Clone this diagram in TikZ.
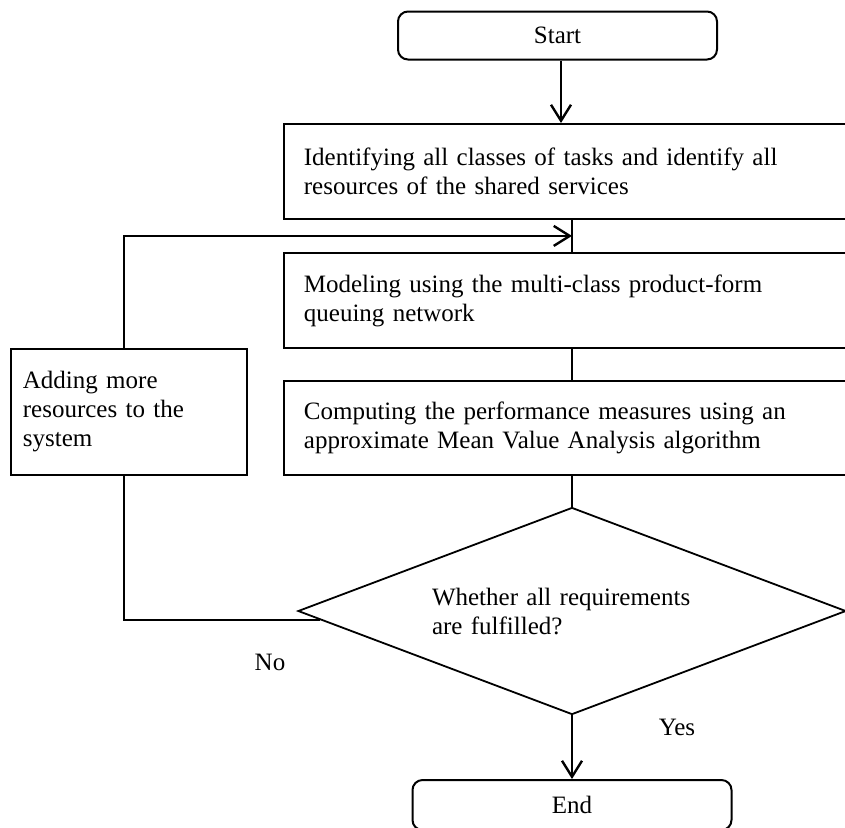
\documentclass[tikz,border=0pt]{standalone}
\usepackage{fontspec}
\setmainfont{Liberation Serif}
\usetikzlibrary{positioning, arrows.meta, shapes.geometric, calc}

\begin{document}
\begin{tikzpicture}[x=0.5pt, y=-0.5pt,
  font=\fontsize{12.5pt}{14.5pt}\selectfont,
  termbox/.style={draw, line width=1pt, rounded corners=5pt, minimum width=159.5pt, minimum height=24pt, inner sep=0pt},
  procbox/.style={draw, line width=0.9pt, anchor=north west, minimum width=283.5pt, text width=263.5pt, inner xsep=10pt, align=left},
  decbox/.style={draw, diamond, line width=0.9pt, minimum width=274pt, minimum height=103.5pt, aspect=2.65, inner sep=2pt, text width=140pt, align=left},
  flow/.style={line width=1.2pt, -{Straight Barb[length=8pt, width=10pt]}},
  link/.style={line width=0.9pt},
  lbl/.style={inner sep=0pt}]
\useasboundingbox (0,0) rectangle (845,827);

% Start and the main steps
\node[termbox] (start) at (557.5,35.5) {Start};
\node[procbox, minimum height=47.5pt] (ident) at (283,123) {Identifying all classes of tasks and identify all\\resources of the shared services};
\node[procbox, minimum height=47.5pt] (model) at (283,252) {Modeling using the multi-class product-form\\queuing network};
\node[procbox, minimum height=47pt] (comp) at (283,380) {Computing the performance measures using an\\approximate Mean Value Analysis algorithm};

% Decision and end
\node[decbox] (check) at (572,611) {Whether all requirements\\are fulfilled?};
\node[termbox, minimum height=25pt] (stop) at (572,805) {End};

% Feedback box
\node[draw, line width=0.9pt, anchor=north west, minimum width=118pt, minimum height=63pt, text width=106pt, inner xsep=6pt, align=left] (add) at (10,348) {Adding more\\resources to the\\system};

% Connectors
\coordinate (join) at ($(ident.south -| check.north)!0.5!(model.north -| check.north)$);
\draw[flow] ([xshift=1.75pt]start.south) -- ([xshift=1.75pt]start.south |- ident.north);
\draw[link] (ident.south -| check.north) -- (model.north -| check.north);
\draw[link] (model.south -| check.north) -- (comp.north -| check.north);
\draw[link] (comp.south -| check.north) -- (check.north);
\draw[flow] (check.south) -- (stop.north);
\draw[line width=1.2pt] (check.182) -| ([xshift=-2.5pt]add.south);
\draw[flow] ([xshift=-2.5pt]add.north) |- (join);

% Labels
\node[lbl] (no) at (270,662) {No};
\node[lbl] (yes) at (677,727) {Yes};
\end{tikzpicture}
\end{document}
